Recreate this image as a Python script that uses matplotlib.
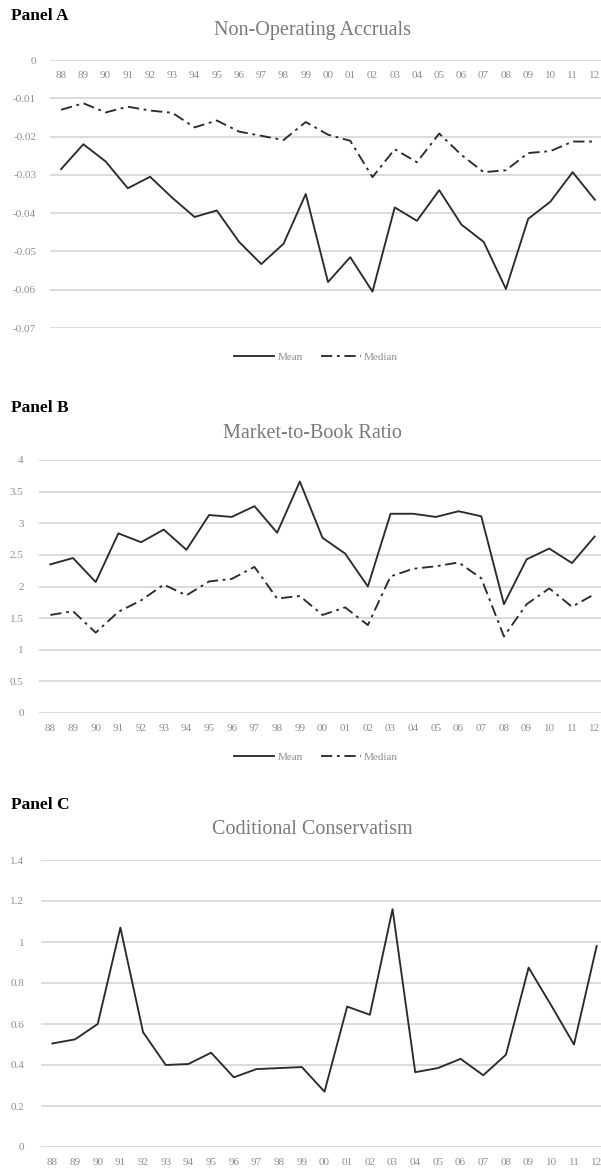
import numpy as np
import matplotlib
matplotlib.use("Agg")
import matplotlib.pyplot as plt
from matplotlib.lines import Line2D

# -----------------------------
# data
# -----------------------------
years = ["88", "89", "90", "91", "92", "93", "94", "95", "96", "97", "98", "99", "00",
         "01", "02", "03", "04", "05", "06", "07", "08", "09", "10", "11", "12"]

noa_mean = [-0.0285, -0.0220, -0.0265, -0.0335, -0.0305, -0.0360, -0.0410, -0.0393,
            -0.0475, -0.0533, -0.0480, -0.0350, -0.0580, -0.0515, -0.0605, -0.0385,
            -0.0420, -0.0340, -0.0430, -0.0475, -0.0598, -0.0415, -0.0370, -0.0293, -0.0365]
noa_median = [-0.0130, -0.0113, -0.0137, -0.0122, -0.0132, -0.0138, -0.0176, -0.0158,
              -0.0187, -0.0198, -0.0209, -0.0162, -0.0195, -0.0211, -0.0306, -0.0233,
              -0.0267, -0.0192, -0.0248, -0.0293, -0.0288, -0.0243, -0.0238, -0.0213, -0.0213]

mtb_mean = [2.35, 2.45, 2.07, 2.84, 2.70, 2.90, 2.58, 3.13, 3.10, 3.27, 2.85, 3.66, 2.77,
            2.52, 2.00, 3.15, 3.15, 3.10, 3.19, 3.11, 1.72, 2.43, 2.60, 2.37, 2.79]
mtb_median = [1.55, 1.61, 1.27, 1.60, 1.78, 2.03, 1.86, 2.08, 2.12, 2.31, 1.81, 1.85, 1.55,
              1.67, 1.39, 2.16, 2.28, 2.32, 2.38, 2.13, 1.21, 1.72, 1.97, 1.68, 1.88]

cons = [0.505, 0.525, 0.600, 1.070, 0.560, 0.400, 0.405, 0.460, 0.340, 0.380, 0.385, 0.390,
        0.270, 0.685, 0.645, 1.160, 0.365, 0.385, 0.430, 0.350, 0.450, 0.875, 0.690, 0.500, 0.980]

noa_ticks = [0, -0.01, -0.02, -0.03, -0.04, -0.05, -0.06, -0.07]
mtb_ticks = [0, 0.5, 1, 1.5, 2, 2.5, 3, 3.5, 4]
cons_ticks = [0, 0.2, 0.4, 0.6, 0.8, 1, 1.2, 1.4]

W, H = 601, 1168
SERIF = ["Liberation Serif", "DejaVu Serif"]
LINE_COLOR = "#2b2b2b"
TICK_COLOR = "#8f8f8f"
TITLE_COLOR = "#7a7a7a"
DASHDOT = (0, (6, 2.5, 1.5, 2.5))
TICK_SIZE = 8

plt.rcParams["font.family"] = SERIF

fig = plt.figure(figsize=(W / 100, H / 100), dpi=100)


def axes_px(left, right, top, bottom):
    return fig.add_axes([left / W, 1 - bottom / H, (right - left) / W, (bottom - top) / H])


def fmt(v):
    return "0" if v == 0 else f"{v:g}"


def draw_panel(ax, series, styles, ticks, ylim, label_pad):
    x = np.arange(len(years))
    for vals, ls in zip(series, styles):
        ax.plot(x, vals, color=LINE_COLOR, lw=1.35, linestyle=ls, zorder=3)
    ax.set_xlim(-0.5, len(years) - 0.5)
    ax.set_ylim(*ylim)
    ax.set_yticks(ticks)
    ax.set_yticklabels([fmt(t) for t in ticks])
    ax.set_xticks([])
    ax.tick_params(axis="y", length=0, pad=label_pad, labelsize=TICK_SIZE, labelcolor=TICK_COLOR)
    for t in ticks:
        ax.axhline(t, color="#d9d9d9", lw=1.3, zorder=1)
    for s in ax.spines.values():
        s.set_visible(False)
    ax.patch.set_alpha(0)
    # category labels hang just below the zero line
    for i, lab in enumerate(years):
        ax.annotate(lab, (i, 0), xytext=(0, -11), textcoords="offset points",
                    ha="center", va="center", fontsize=TICK_SIZE, color=TICK_COLOR,
                    annotation_clip=False)


def panel_header(name, title, y_name, y_title):
    fig.text(11 / W, 1 - y_name / H, name, fontsize=12.5, fontweight="bold",
             color="black", ha="left", va="center")
    fig.text(312 / W, 1 - y_title / H, title, fontsize=14.5, color=TITLE_COLOR,
             ha="center", va="center")


def legend(ax, y):
    handles = [Line2D([], [], color=LINE_COLOR, lw=1.35),
               Line2D([], [], color=LINE_COLOR, lw=1.35, linestyle=DASHDOT)]
    ax.legend(handles, ["Mean", "Median"], loc="center", ncol=2, frameon=False,
              bbox_to_anchor=(316 / W, 1 - y / H), bbox_transform=fig.transFigure,
              fontsize=TICK_SIZE, labelcolor=TICK_COLOR, handlelength=3.6, columnspacing=1.6,
              handletextpad=0.3)


# Panel A
panel_header("Panel A", "Non-Operating Accruals", 16, 31)
axA = axes_px(50, 606, 60, 328)
draw_panel(axA, [noa_mean, noa_median], ["-", DASHDOT], noa_ticks, (-0.07, 0), 10)
legend(axA, 357)

# Panel B
panel_header("Panel B", "Market-to-Book Ratio", 408, 433)
axB = axes_px(39, 606, 460, 713)
draw_panel(axB, [mtb_mean, mtb_median], ["-", DASHDOT], mtb_ticks, (0, 4), 11)
legend(axB, 757)

# Panel C
panel_header("Panel C", "Coditional Conservatism", 805, 830)
axC = axes_px(41, 608, 860, 1147)
draw_panel(axC, [cons], ["-"], cons_ticks, (0, 1.4), 12)

fig.savefig("out.png", dpi=100)
